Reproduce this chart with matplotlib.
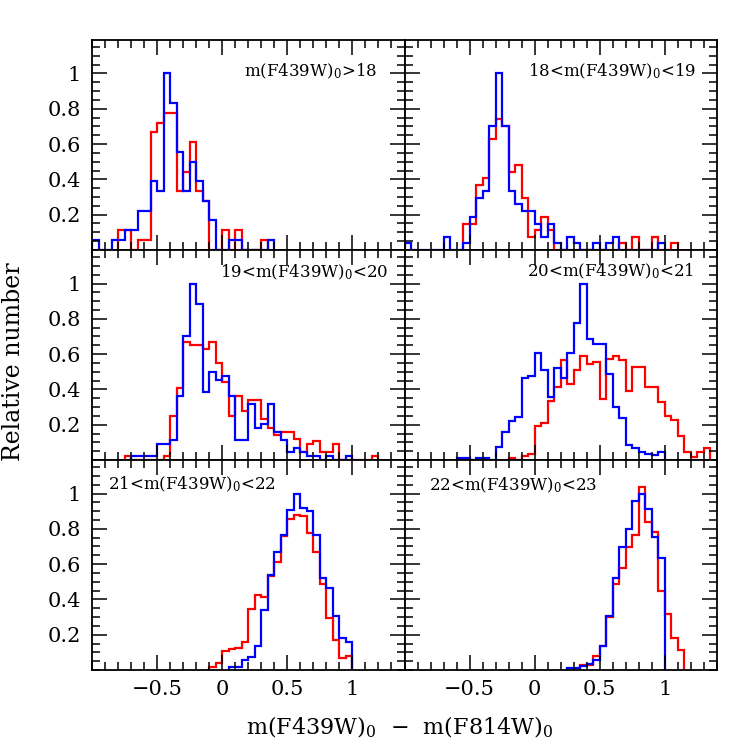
import numpy as np
import matplotlib
matplotlib.use('Agg')
import matplotlib.pyplot as plt
from matplotlib.ticker import FixedLocator, MultipleLocator, FuncFormatter

plt.rcParams['font.family'] = 'DejaVu Serif'
plt.rcParams['mathtext.fontset'] = 'dejavuserif'
plt.rcParams['axes.linewidth'] = 1.3

BIN = 0.05

# panel titles (magnitude cuts)
titles = ['m(F439W)$_0$>18', '18<m(F439W)$_0$<19', '19<m(F439W)$_0$<20',
          '20<m(F439W)$_0$<21', '21<m(F439W)$_0$<22', '22<m(F439W)$_0$<23']

# each histogram: left edge of first bin, then normalised values per 0.05 bin
red1_start = -0.8
red1 = [0.111, 0.111, 0, 0.056, 0.056, 0.667, 0.722, 0.778, 0.778, 0.333, 0.444,
        0.611, 0.333, 0.278, 0, 0, 0.111, 0, 0.111, 0, 0, 0, 0.056]
blue1_start = -1.0
blue1 = [0.056, 0, 0, 0.056, 0.056, 0.111, 0.111, 0.222, 0.222, 0.389, 0.333,
         1.0, 0.833, 0.556, 0.333, 0.5, 0.389, 0.278, 0.167, 0, 0, 0.056, 0.056,
         0, 0, 0, 0, 0.056]

red2_start = -0.55
red2 = [0.148, 0.148, 0.37, 0.407, 0.63, 0.741, 0.704, 0.444, 0.481, 0.296, 0.074,
        0.111, 0.185, 0.111, 0, 0, 0, 0, 0, 0, 0, 0, 0, 0, 0.037, 0, 0.074, 0, 0,
        0.074, 0, 0, 0.037]
blue2_start = -1.0
blue2 = [0.037, 0, 0, 0, 0, 0, 0.074, 0, 0, 0.037, 0.185, 0.296, 0.333, 0.704,
         1.0, 0.704, 0.333, 0.259, 0.222, 0.222, 0.148, 0.074, 0.148, 0.037, 0,
         0.074, 0.037, 0, 0, 0.037, 0, 0.037, 0.074, 0, 0, 0, 0, 0, 0, 0.037]

red3_start = -0.75
red3 = [0.023, 0, 0, 0, 0, 0, 0.023, 0.25, 0.41, 0.67, 0.65, 0.65, 0.63, 0.67,
        0.55, 0.44, 0.25, 0.36, 0.28, 0.34, 0.34, 0.23, 0.18, 0.14, 0.16, 0.16,
        0.12, 0.045, 0.09, 0.11, 0.045, 0.045, 0.09, 0, 0, 0, 0, 0, 0.023]
blue3_start = -0.7
blue3 = [0.023, 0.023, 0.023, 0.023, 0.091, 0.091, 0.114, 0.364, 0.705, 1.0, 0.886,
         0.386, 0.5, 0.455, 0.477, 0.364, 0.114, 0.114, 0.318, 0.182, 0.205, 0.318,
         0.159, 0.114, 0.045, 0.068, 0.045, 0.023, 0.023, 0, 0.023, 0, 0, 0.023]

red4_start = -0.2
red4 = [0.013, 0, 0.02, 0.034, 0.195, 0.21, 0.336, 0.412, 0.568, 0.43, 0.51, 0.59,
        0.544, 0.557, 0.346, 0.572, 0.59, 0.568, 0.393, 0.525, 0.525, 0.412, 0.412,
        0.327, 0.251, 0.228, 0.138, 0.044, 0.015, 0.044, 0.068]
blue4_start = -0.6
blue4 = [0.013, 0.013, 0, 0.013, 0.013, 0, 0.072, 0.157, 0.223, 0.242, 0.462, 0.474,
         0.604, 0.51, 0.355, 0.519, 0.462, 0.604, 0.776, 1.0, 0.686, 0.657, 0.66,
         0.487, 0.298, 0.238, 0.087, 0.068, 0.047, 0.034, 0.03, 0.044]

red5_start = -0.1
red5 = [0.019, 0.038, 0.109, 0.119, 0.124, 0.16, 0.345, 0.425, 0.412, 0.53, 0.614,
        0.76, 0.855, 0.877, 0.87, 0.775, 0.671, 0.487, 0.293, 0.17, 0.066, 0.081]
blue5_start = 0.05
blue5 = [0.015, 0.015, 0.059, 0.072, 0.134, 0.342, 0.538, 0.67, 0.766, 0.905, 1.0,
         0.92, 0.9, 0.766, 0.52, 0.464, 0.308, 0.18, 0.157]

red6_start = 0.35
red6 = [0.03, 0.03, 0.081, 0.134, 0.302, 0.487, 0.576, 0.698, 0.764, 1.038, 0.836,
        0.78, 0.45, 0.317, 0.18, 0.114]
blue6_start = 0.25
blue6 = [0.01, 0.01, 0.02, 0.034, 0.058, 0.134, 0.307, 0.521, 0.698, 0.798, 0.955,
         0.996, 0.915, 0.751, 0.632]

reds = [(red1_start, red1), (red2_start, red2), (red3_start, red3),
        (red4_start, red4), (red5_start, red5), (red6_start, red6)]
blues = [(blue1_start, blue1), (blue2_start, blue2), (blue3_start, blue3),
         (blue4_start, blue4), (blue5_start, blue5), (blue6_start, blue6)]

# title placement (axes fraction) per panel
title_pos = [(0.913, 0.825, 'right'), (0.933, 0.825, 'right'),
             (0.949, 0.87, 'right'), (0.926, 0.873, 'right'),
             (0.051, 0.861, 'left'), (0.077, 0.857, 'left')]

fig, axes = plt.subplots(3, 2, sharex=True, sharey=True, figsize=(7.47, 7.47), dpi=100)
fig.subplots_adjust(left=0.1232, right=0.9598, top=0.9465, bottom=0.1031,
                    wspace=0, hspace=0)

def fmt(v, p):
    return ('%g' % v).replace('-', '\u2212')

for i, ax in enumerate(axes.flat):
    for (start, vals), col in [(reds[i], 'red'), (blues[i], 'blue')]:
        vals = np.array(vals)
        edges = start + BIN * np.arange(len(vals) + 1)
        ax.stairs(vals, edges, color=col, lw=1.6, baseline=0)
    x, y, ha = title_pos[i]
    ax.text(x, y, titles[i], transform=ax.transAxes, ha=ha, va='baseline', fontsize=12)

    ax.set_xlim(-1.0, 1.4)
    ax.set_ylim(0, 1.19)
    ax.xaxis.set_major_locator(FixedLocator([-0.5, 0, 0.5, 1]))
    ax.xaxis.set_minor_locator(MultipleLocator(0.1))
    ax.xaxis.set_major_formatter(FuncFormatter(fmt))
    ax.yaxis.set_major_locator(FixedLocator([0.2, 0.4, 0.6, 0.8, 1.0]))
    ax.yaxis.set_minor_locator(MultipleLocator(0.05))
    ax.yaxis.set_major_formatter(FuncFormatter(fmt))
    ax.tick_params(which='both', direction='in', top=True, right=True, width=1.1)
    ax.tick_params(which='major', length=11, labelsize=15)
    ax.tick_params(which='minor', length=6)
    ax.tick_params(axis='x', pad=7)
    ax.tick_params(axis='y', pad=8)

fig.text(0.535, 0.026, 'm(F439W)$_0$  \u2212  m(F814W)$_0$', ha='center', va='center', fontsize=16)
fig.text(0.018, 0.516, 'Relative number', rotation=90, ha='center', va='center', fontsize=17)

fig.savefig('out.png', dpi=100)
